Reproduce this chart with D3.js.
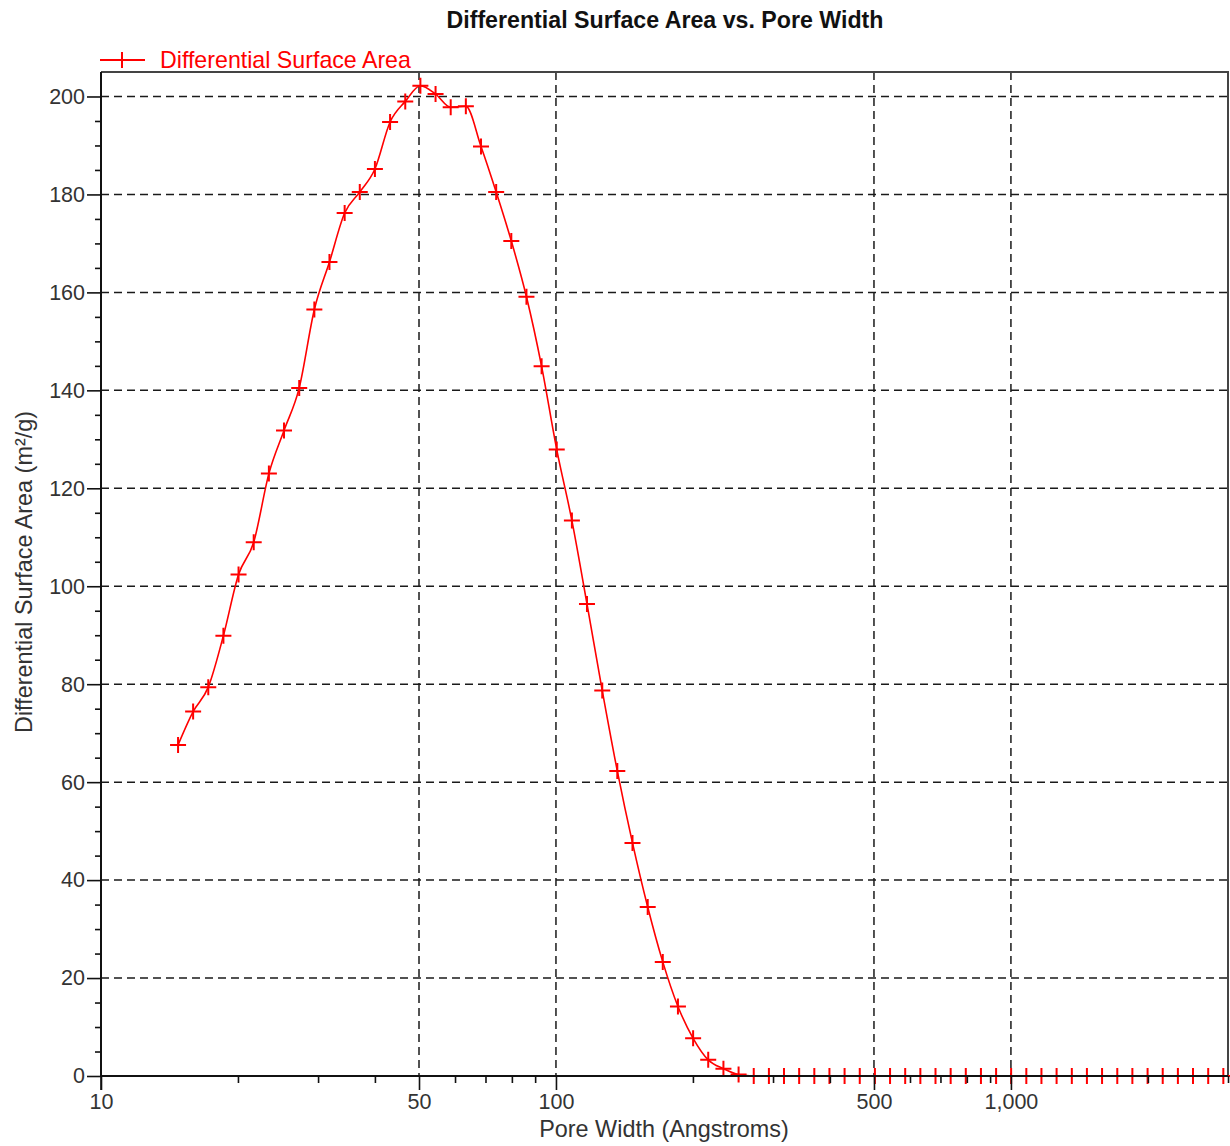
<!DOCTYPE html>
<html>
<head>
<meta charset="utf-8">
<script src="https://cdn.jsdelivr.net/npm/d3@7"></script>
<style>
  html, body { margin: 0; padding: 0; background: #fff; }
  svg { display: block; font-family: "Liberation Sans", Arial, Helvetica, sans-serif; }
</style>
</head>
<body>
<svg id="chart" width="1230" height="1146"></svg>
<script>
// Pore width (Angstroms) for each measured point
const poreWidth = [
  14.77, 15.94, 17.21, 18.58, 20.06, 21.66, 23.39, 25.25, 27.27, 29.44,
  31.78, 34.32, 37.05, 40.00, 43.19, 46.64, 50.35, 54.37, 58.70, 63.38,
  68.43, 73.89, 79.77, 86.13, 92.99, 100.4, 108.4, 117.0, 126.4, 136.4,
  147.3, 159.1, 171.7, 185.4, 200.2, 216.1, 233.4, 252.0, 272.1, 293.8,
  317.1, 342.4, 369.7, 399.1, 430.9, 465.3, 502.4, 542.4, 585.6, 632.3,
  682.7, 737.1, 795.8, 859.2, 927.7, 1001, 1081, 1167, 1260, 1361,
  1469, 1586, 1713, 1849, 1997, 2156, 2328, 2513, 2714, 2930
];

// Differential surface area (m²/g) at each pore width
const surfaceArea = [
  67.6, 74.4, 79.4, 89.9, 102.4, 109.0, 123.0, 131.8, 140.5, 156.5,
  166.2, 176.2, 180.5, 185.2, 194.8, 199.0, 202.2, 200.5, 197.8, 198.0,
  189.8, 180.5, 170.5, 159.1, 144.9, 127.9, 113.4, 96.4, 78.7, 62.3,
  47.6, 34.5, 23.3, 14.2, 7.7, 3.3, 1.5, 0.3, 0, 0,
  0, 0, 0, 0, 0, 0, 0, 0, 0, 0,
  0, 0, 0, 0, 0, 0, 0, 0, 0, 0,
  0, 0, 0, 0, 0, 0, 0, 0, 0, 0
];

const xMajorTicks = [10, 50, 100, 500, 1000];
const xMinorTicks = [20, 30, 40, 60, 70, 80, 90, 200, 300, 400, 600, 700, 800, 900, 2000, 3000];
const xGridValues = [50, 100, 500, 1000];
const yMajorTicks = [0, 20, 40, 60, 80, 100, 120, 140, 160, 180, 200];
const yMinorTicks = [5, 10, 15, 25, 30, 35, 45, 50, 55, 65, 70, 75, 85, 90, 95, 105, 110, 115,
                     125, 130, 135, 145, 150, 155, 165, 170, 175, 185, 190, 195];

const chartTitle = "Differential Surface Area vs. Pore Width";
const seriesName = "Differential Surface Area";
const xTitle = "Pore Width (Angstroms)";
const yTitle = "Differential Surface Area (m²/g)";

const plotLeft = 101, plotRight = 1228, plotTop = 72, plotBottom = 1076;
const red = "#ff0000";

const svg = d3.select("#chart");

const x = d3.scaleLog().domain([10, 3000]).range([plotLeft, plotRight]);
const y = d3.scaleLinear().domain([0, 205]).range([plotBottom, plotTop]);

// Dashed grid
const grid = svg.append("g")
  .attr("stroke", "#1a1a1a")
  .attr("stroke-width", 1.5)
  .attr("stroke-dasharray", "8,5");
grid.selectAll("line.h").data(yMajorTicks.filter(d => d > 0)).join("line")
  .attr("class", "h")
  .attr("x1", plotLeft).attr("x2", plotRight)
  .attr("y1", d => y(d)).attr("y2", d => y(d));
grid.selectAll("line.v").data(xGridValues).join("line")
  .attr("class", "v")
  .attr("x1", d => x(d)).attr("x2", d => x(d))
  .attr("y1", plotTop).attr("y2", plotBottom);

// Frame (top and right edges)
svg.append("path")
  .attr("d", `M${plotLeft},${plotTop}H${plotRight}V${plotBottom}`)
  .attr("fill", "none")
  .attr("stroke", "#444")
  .attr("stroke-width", 2);

// Series curve
const points = poreWidth.map((w, i) => [w, surfaceArea[i]]);
const line = d3.line()
  .x(d => x(d[0]))
  .y(d => y(d[1]))
  .curve(d3.curveMonotoneX);

svg.append("path")
  .datum(points)
  .attr("d", line)
  .attr("fill", "none")
  .attr("stroke", red)
  .attr("stroke-width", 1.6);

// Plus markers
const plus = "M-8,0H8M0,-8V8";
svg.append("g")
  .selectAll("path")
  .data(points)
  .join("path")
  .attr("transform", d => `translate(${x(d[0])},${y(d[1])})`)
  .attr("d", plus)
  .attr("stroke", red)
  .attr("stroke-width", 2)
  .attr("fill", "none");

// Axes
const xAxis = svg.append("g")
  .attr("transform", `translate(0,${plotBottom})`)
  .call(d3.axisBottom(x).tickValues(xMajorTicks).tickFormat(d3.format(",")).tickSize(14).tickPadding(4));
svg.append("g")
  .attr("transform", `translate(0,${plotBottom})`)
  .call(d3.axisBottom(x).tickValues(xMinorTicks).tickFormat("").tickSize(7))
  .call(g => g.select(".domain").remove());

const yAxis = svg.append("g")
  .attr("transform", `translate(${plotLeft},0)`)
  .call(d3.axisLeft(y).tickValues(yMajorTicks).tickSize(14).tickPadding(2));
svg.append("g")
  .attr("transform", `translate(${plotLeft},0)`)
  .call(d3.axisLeft(y).tickValues(yMinorTicks).tickFormat("").tickSize(6))
  .call(g => g.select(".domain").remove());

svg.selectAll(".tick line").attr("stroke", "#111").attr("stroke-width", 1.6);
svg.selectAll(".domain").attr("stroke", "#111").attr("stroke-width", 2);
xAxis.select(".domain").attr("d", `M${plotLeft},0H${plotRight}`);
yAxis.select(".domain").attr("d", `M0,${plotTop}V${plotBottom}`);
svg.selectAll(".tick text")
  .attr("font-family", "'Liberation Sans', Arial, sans-serif")
  .attr("font-size", 21.5)
  .attr("fill", "#333");

// Extend y axis line below the x axis
svg.append("line")
  .attr("x1", plotLeft).attr("x2", plotLeft)
  .attr("y1", plotBottom).attr("y2", plotBottom + 14)
  .attr("stroke", "#111").attr("stroke-width", 1.6);

// Title
svg.append("text")
  .attr("x", 665).attr("y", 28)
  .attr("text-anchor", "middle")
  .attr("font-size", 23.2)
  .attr("font-weight", "bold")
  .attr("fill", "#111")
  .text(chartTitle);

// Legend
const legend = svg.append("g");
legend.append("line")
  .attr("x1", 100).attr("x2", 145)
  .attr("y1", 60).attr("y2", 60)
  .attr("stroke", red).attr("stroke-width", 2);
legend.append("path")
  .attr("transform", "translate(122,60)")
  .attr("d", plus)
  .attr("stroke", red).attr("stroke-width", 2);
legend.append("text")
  .attr("x", 160).attr("y", 68)
  .attr("font-size", 23.2)
  .attr("fill", red)
  .text(seriesName);

// Axis titles
svg.append("text")
  .attr("x", 664).attr("y", 1137)
  .attr("text-anchor", "middle")
  .attr("font-size", 23.4)
  .attr("fill", "#333")
  .text(xTitle);

svg.append("text")
  .attr("transform", "translate(32,572) rotate(-90)")
  .attr("text-anchor", "middle")
  .attr("font-size", 23.4)
  .attr("fill", "#333")
  .text(yTitle);
</script>
</body>
</html>
